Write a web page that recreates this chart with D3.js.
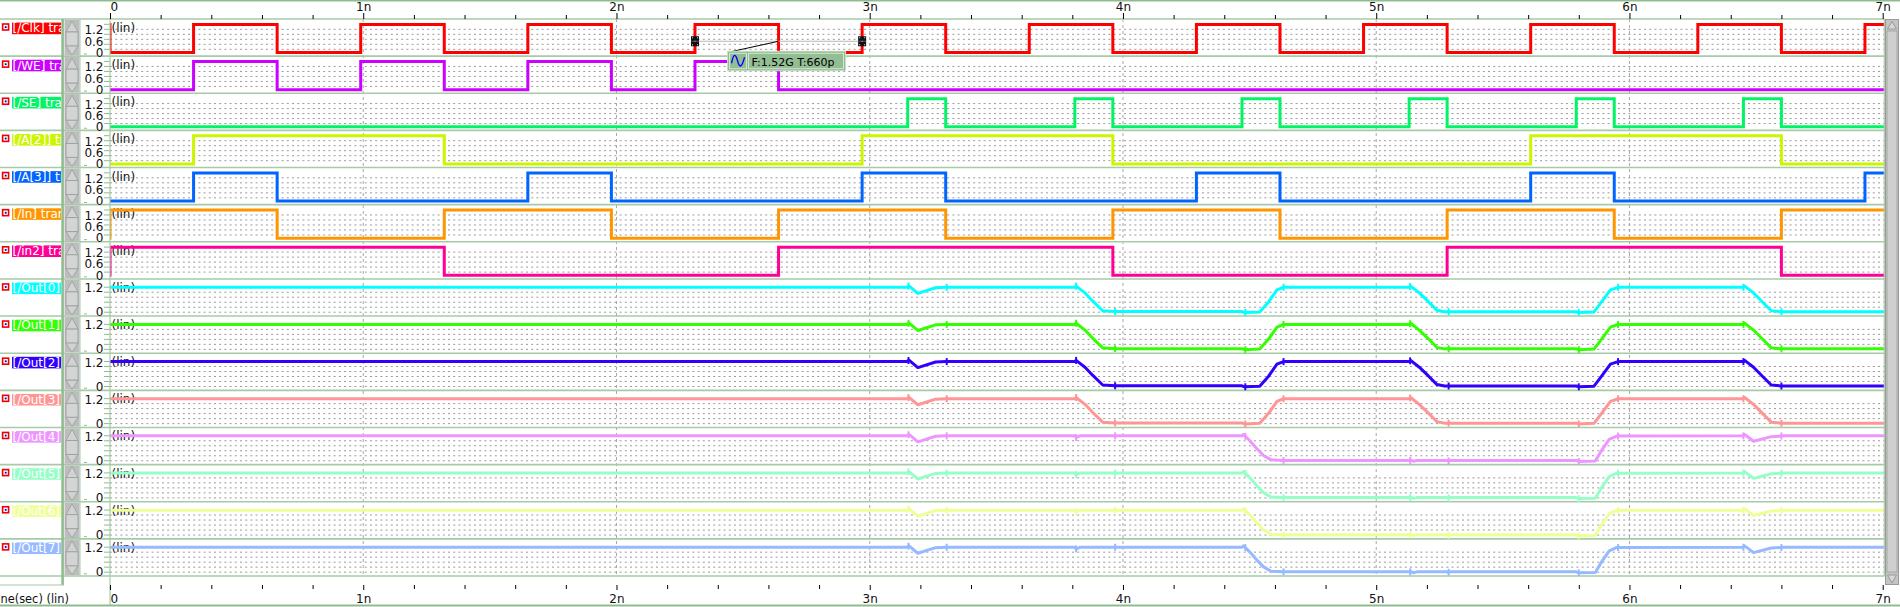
<!DOCTYPE html>
<html><head><meta charset="utf-8">
<script src="https://cdn.jsdelivr.net/npm/d3@7"></script>
<style>
body{margin:0;background:#fff;overflow:hidden;}
svg{display:block;font-family:"DejaVu Sans",sans-serif;}
</style></head><body>
<svg id="c" width="1900" height="607"></svg>
<script>
// ---------------- data ----------------
const timeTickValues = [0, 1, 2, 3, 4, 5, 6, 7];
const timeTickLabels = ["0", "1n", "2n", "3n", "4n", "5n", "6n", "7n"];
const signalNames = ["[/Clk] tran", "[/WE] tran", "[/SE] tran", "[/A[2]] tran", "[/A[3]] tran", "[/In] tran", "[/in2] tran",
  "[/Out[0]]", "[/Out[1]]", "[/Out[2]]", "[/Out[3]]", "[/Out[4]]", "[/Out[5]]", "[/Out[6]]", "[/Out[7]]"];
const signalColors = ["#ff0000", "#cc00ff", "#00f564", "#ccf500", "#0064ff", "#ff9600", "#ff0096",
  "#00ffff", "#32ff00", "#3200ff", "#ff9696", "#ee96ff", "#96ffc8", "#eeff96", "#96b9ff"];
const xAxisTitle = "ne(sec) (lin)";
const digitalTickValues = [0, 0.6, 1.2];
const analogTickValues = [0, 1.2];
const digitalHigh = 1.5;
const digitalStart = [1, 0, 0, 0, 0, 0, 0];
const clkEdges = [0, 0.33, 0.66, 0.99, 1.32, 1.65, 1.98, 2.31, 2.64, 2.97, 3.30, 3.63, 3.96, 4.29, 4.62, 4.95, 5.28, 5.61, 5.94, 6.27, 6.60, 6.93];
const weEdges = [0.33, 0.66, 0.99, 1.32, 1.65, 1.98, 2.31, 2.64];
const seEdges = [3.15, 3.30, 3.81, 3.96, 4.47, 4.62, 5.13, 5.28, 5.79, 5.94, 6.45, 6.60];
const a2Edges = [0.33, 1.32, 2.97, 3.96, 5.61, 6.60];
const a3Edges = [0.33, 0.66, 1.65, 1.98, 2.97, 3.30, 4.29, 4.62, 5.61, 5.94, 6.93];
const inEdges = [0, 0.66, 1.32, 1.98, 2.64, 3.30, 3.96, 4.62, 5.28, 5.94, 6.60];
const in2Edges = [0, 1.32, 2.64, 3.96, 5.28, 6.60];
const out0 = [[0,1.23],[3.145,1.23],[3.155,1.3],[3.19,0.93],[3.26,1.21],[3.30,1.23],[3.81,1.23],[3.815,1.29],[3.85,0.95],[3.88,0.55],[3.92,0.06],[3.97,0.02],[4.47,0.02],[4.48,-0.03],[4.54,0.0],[4.575,0.5],[4.608,1.1],[4.634,1.23],[5.13,1.23],[5.136,1.29],[5.17,0.95],[5.207,0.5],[5.24,0.08],[5.27,0.01],[5.79,0.01],[5.80,-0.03],[5.86,0.0],[5.89,0.5],[5.925,1.1],[5.955,1.23],[6.45,1.23],[6.455,1.29],[6.49,0.95],[6.525,0.5],[6.56,0.06],[6.6,0.01],[7.01,0.01]];
const out1 = [[0,1.23],[3.145,1.23],[3.155,1.3],[3.19,0.93],[3.26,1.21],[3.30,1.23],[3.81,1.23],[3.815,1.29],[3.85,0.95],[3.88,0.55],[3.92,0.06],[3.97,0.02],[4.47,0.02],[4.48,-0.03],[4.54,0.0],[4.575,0.5],[4.608,1.1],[4.634,1.23],[5.13,1.23],[5.136,1.29],[5.17,0.95],[5.207,0.5],[5.24,0.08],[5.27,0.01],[5.79,0.01],[5.80,-0.03],[5.86,0.0],[5.89,0.5],[5.925,1.1],[5.955,1.23],[6.45,1.23],[6.455,1.29],[6.49,0.95],[6.525,0.5],[6.56,0.06],[6.6,0.01],[7.01,0.01]];
const out2 = [[0,1.23],[3.145,1.23],[3.155,1.3],[3.19,0.93],[3.26,1.21],[3.30,1.23],[3.81,1.23],[3.815,1.29],[3.85,0.95],[3.88,0.55],[3.92,0.06],[3.97,0.02],[4.47,0.02],[4.48,-0.03],[4.54,0.0],[4.575,0.5],[4.608,1.1],[4.634,1.23],[5.13,1.23],[5.136,1.29],[5.17,0.95],[5.207,0.5],[5.24,0.08],[5.27,0.01],[5.79,0.01],[5.80,-0.03],[5.86,0.0],[5.89,0.5],[5.925,1.1],[5.955,1.23],[6.45,1.23],[6.455,1.29],[6.49,0.95],[6.525,0.5],[6.56,0.06],[6.6,0.01],[7.01,0.01]];
const out3 = [[0,1.23],[3.145,1.23],[3.155,1.3],[3.19,0.93],[3.26,1.21],[3.30,1.23],[3.81,1.23],[3.815,1.29],[3.85,0.95],[3.88,0.55],[3.92,0.06],[3.97,0.02],[4.47,0.02],[4.48,-0.03],[4.54,0.0],[4.575,0.5],[4.608,1.1],[4.634,1.23],[5.13,1.23],[5.136,1.29],[5.17,0.95],[5.207,0.5],[5.24,0.08],[5.27,0.01],[5.79,0.01],[5.80,-0.03],[5.86,0.0],[5.89,0.5],[5.925,1.1],[5.955,1.23],[6.45,1.23],[6.455,1.29],[6.49,0.95],[6.525,0.5],[6.56,0.06],[6.6,0.01],[7.01,0.01]];
const out4 = [[0,1.23],[3.145,1.23],[3.155,1.3],[3.19,0.93],[3.26,1.21],[3.30,1.23],[3.81,1.23],[3.815,1.15],[3.83,1.23],[4.47,1.23],[4.476,1.3],[4.50,1.0],[4.528,0.6],[4.555,0.25],[4.585,0.03],[4.63,0.0],[5.14,0.0],[5.146,-0.04],[5.16,0.0],[5.28,0.0],[5.285,-0.03],[5.29,0.0],[5.79,0.0],[5.80,-0.05],[5.865,-0.03],[5.89,0.5],[5.92,1.05],[5.95,1.22],[6.45,1.23],[6.455,1.3],[6.49,0.96],[6.56,1.19],[6.60,1.22],[6.61,1.23],[7.01,1.23]];
const out5 = [[0,1.23],[3.145,1.23],[3.155,1.3],[3.19,0.93],[3.26,1.21],[3.30,1.23],[3.81,1.23],[3.815,1.15],[3.83,1.23],[4.47,1.23],[4.476,1.3],[4.50,1.0],[4.528,0.6],[4.555,0.25],[4.585,0.03],[4.63,0.0],[5.14,0.0],[5.146,-0.04],[5.16,0.0],[5.28,0.0],[5.285,-0.03],[5.29,0.0],[5.79,0.0],[5.80,-0.05],[5.865,-0.03],[5.89,0.5],[5.92,1.05],[5.95,1.22],[6.45,1.23],[6.455,1.3],[6.49,0.96],[6.56,1.19],[6.60,1.22],[6.61,1.23],[7.01,1.23]];
const out6 = [[0,1.23],[3.145,1.23],[3.155,1.3],[3.19,0.93],[3.26,1.21],[3.30,1.23],[3.81,1.23],[3.815,1.15],[3.83,1.23],[4.47,1.23],[4.476,1.3],[4.50,1.0],[4.528,0.6],[4.555,0.25],[4.585,0.03],[4.63,0.0],[5.14,0.0],[5.146,-0.04],[5.16,0.0],[5.28,0.0],[5.285,-0.03],[5.29,0.0],[5.79,0.0],[5.80,-0.05],[5.865,-0.03],[5.89,0.5],[5.92,1.05],[5.95,1.22],[6.45,1.23],[6.455,1.3],[6.49,0.96],[6.56,1.19],[6.60,1.22],[6.61,1.23],[7.01,1.23]];
const out7 = [[0,1.23],[3.145,1.23],[3.155,1.3],[3.19,0.93],[3.26,1.21],[3.30,1.23],[3.81,1.23],[3.815,1.15],[3.83,1.23],[4.47,1.23],[4.476,1.3],[4.50,1.0],[4.528,0.6],[4.555,0.25],[4.585,0.03],[4.63,0.0],[5.14,0.0],[5.146,-0.04],[5.16,0.0],[5.28,0.0],[5.285,-0.03],[5.29,0.0],[5.79,0.0],[5.80,-0.05],[5.865,-0.03],[5.89,0.5],[5.92,1.05],[5.95,1.22],[6.45,1.23],[6.455,1.3],[6.49,0.96],[6.56,1.19],[6.60,1.22],[6.61,1.23],[7.01,1.23]];
const outMarkerTimes = [3.153, 3.304, 3.815, 3.969, 4.483, 4.634, 5.134, 5.286, 5.80, 5.955, 6.45, 6.60];
const cursorTimes = [2.31, 2.97];
const cursorLevel = 0.6;
const cursorText = "F:1.52G T:660p";

// ---------------- drawing ----------------
const svg = d3.select("#c");
const W = 1900, H = 607;
const x = d3.scaleLinear().domain([0, 7]).range([110, 1882.7]);
const row = d3.scaleBand().domain(d3.range(15)).range([19, 576]).paddingInner(0).paddingOuter(0);
const GREEN = "#8fbc8f", LGREEN = "#a6cba6";

const digitalEdges = [clkEdges, weEdges, seEdges, a2Edges, a3Edges, inEdges, in2Edges];
const analogSeries = [out0, out1, out2, out3, out4, out5, out6, out7];

function yScale(i) {
  const top = row(i);
  return i < 7 ? d3.scaleLinear().domain([0, 1.2]).range([top + 33.5, top + 11])
               : d3.scaleLinear().domain([0, 1.2]).range([top + 33, top + 9]);
}

svg.append("rect").attr("width", W).attr("height", H).attr("fill", "#fff");

const defs = svg.append("defs");
defs.append("clipPath").attr("id", "plotclip").append("rect").attr("x", 110).attr("y", 19).attr("width", 1774.5).attr("height", 557);
defs.append("clipPath").attr("id", "labclip").append("rect").attr("x", 0).attr("y", 0).attr("width", 61).attr("height", H);

// grid
const grid = svg.append("g");
d3.range(15).forEach(i => {
  const top = row(i);
  const offs = i < 7 ? [10.3, 15.3, 20.3, 25.3, 30.3] : [13.3, 18.3, 23.3, 28.3, 33.3];
  offs.forEach(o => {
    grid.append("line").attr("x1", 110).attr("x2", 1884).attr("y1", top + o).attr("y2", top + o)
      .attr("stroke", "#9a9a9a").attr("stroke-width", 1).attr("stroke-dasharray", "2,3.2");
  });
  const ticks = i < 7 ? [5.3, 10.3, 15.3, 20.3, 25.3, 30.3] : [8.3, 13.3, 18.3, 23.3, 28.3, 33.3];
  ticks.forEach(o => {
    grid.append("line").attr("x1", 104).attr("x2", 110).attr("y1", top + o).attr("y2", top + o)
      .attr("stroke", GREEN).attr("stroke-width", 1);
  });
  grid.append("line").attr("x1", 84).attr("x2", 87).attr("y1", top + 35).attr("y2", top + 35).attr("stroke", GREEN).attr("stroke-width", 1);
});
timeTickValues.slice(1, 7).forEach(t => {
  grid.append("line").attr("x1", x(t)).attr("x2", x(t)).attr("y1", 19).attr("y2", 576)
    .attr("stroke", "#a8a8a8").attr("stroke-width", 1).attr("stroke-dasharray", "3,3");
});

// panel separators
d3.range(16).forEach(i => {
  const y = 19 + i * row.step();
  svg.append("line").attr("x1", 0).attr("x2", 1884.5).attr("y1", y).attr("y2", y).attr("stroke", LGREEN).attr("stroke-width", 1.6);
});

// "(lin)" texts and y tick labels
d3.range(15).forEach(i => {
  const top = row(i);
  const ys = yScale(i);
  svg.append("text").attr("x", 111.5).attr("y", top + 13).attr("font-size", 12).attr("fill", "#111").text("(lin)");
  const tv = i < 7 ? digitalTickValues : analogTickValues;
  tv.forEach(v => {
    svg.append("text").attr("x", 103.5).attr("y", ys(v)).attr("dy", "0.36em").attr("text-anchor", "end")
      .attr("font-size", 12).attr("fill", "#111").text(d3.format("")(v));
  });
});

// traces
const plot = svg.append("g").attr("clip-path", "url(#plotclip)");
digitalEdges.forEach((edges, i) => {
  const ys = yScale(i);
  let lv = digitalStart[i];
  const pts = [[0, lv ? digitalHigh : 0]];
  edges.forEach(e => { lv = 1 - lv; pts.push([e, lv ? digitalHigh : 0]); });
  pts.push([7.01, lv ? digitalHigh : 0]);
  const line = d3.line().x(d => x(d[0])).y(d => ys(d[1])).curve(d3.curveStepAfter);
  plot.append("path").attr("d", line(pts)).attr("fill", "none").attr("stroke", signalColors[i])
    .attr("stroke-width", 3).attr("stroke-linejoin", "miter").attr("stroke-linecap", "square");
});
analogSeries.forEach((pts, j) => {
  const i = j + 7;
  const ys = yScale(i);
  const line = d3.line().x(d => x(d[0])).y(d => ys(d[1]));
  plot.append("path").attr("d", line(pts)).attr("fill", "none").attr("stroke", signalColors[i])
    .attr("stroke-width", 3).attr("stroke-linejoin", "round");
  const bis = d3.bisector(d => d[0]).left;
  outMarkerTimes.forEach(t => {
    const k = Math.max(1, bis(pts, t));
    const a = pts[k - 1], b = pts[k];
    const v = a[1] + (b[1] - a[1]) * ((t - a[0]) / ((b[0] - a[0]) || 1));
    plot.append("line").attr("x1", x(t)).attr("x2", x(t)).attr("y1", ys(v) - 3.5).attr("y2", ys(v) + 3.5)
      .attr("stroke", signalColors[i]).attr("stroke-width", 2);
  });
});

// left frame pieces
svg.append("line").attr("x1", 110).attr("x2", 110).attr("y1", 19).attr("y2", 605).attr("stroke", LGREEN).attr("stroke-width", 1.2);
svg.append("line").attr("x1", 1884.3).attr("x2", 1884.3).attr("y1", 19).attr("y2", 576).attr("stroke", LGREEN).attr("stroke-width", 1.2);
svg.append("rect").attr("x", 61.3).attr("y", 19).attr("width", 2.6).attr("height", 566).attr("fill", GREEN);
svg.append("line").attr("x1", 0).attr("x2", 64).attr("y1", 585).attr("y2", 585).attr("stroke", LGREEN).attr("stroke-width", 1.2);

// per-row label widgets
d3.range(15).forEach(i => {
  const top = row(i);
  svg.append("rect").attr("x", 2.6).attr("y", top + 5).attr("width", 6).attr("height", 6)
    .attr("fill", "#fff").attr("stroke", "#ee0000").attr("stroke-width", 1.6);
  svg.append("rect").attr("x", 4.8).attr("y", top + 7.2).attr("width", 1.8).attr("height", 1.8).attr("fill", "#0000cc");
  const lg = svg.append("g").attr("clip-path", "url(#labclip)");
  lg.append("rect").attr("x", 12).attr("y", top + 3.6).attr("width", 50).attr("height", 11.6).attr("fill", signalColors[i]);
  lg.append("text").attr("x", 12.5).attr("y", top + 13.4).attr("font-size", 12).attr("fill", "#fff").text(signalNames[i]);
  const sx = 64.5, sw = 15;
  svg.append("rect").attr("x", sx).attr("y", top + 0.8).attr("width", sw).attr("height", row.step() - 1.6).attr("fill", "#bdbdbd");
  svg.append("polygon").attr("points", `${sx+1.5},${top+13} ${sx+sw/2},${top+2} ${sx+sw-1.5},${top+13}`)
    .attr("fill", "#d2d2d2").attr("stroke", "#9c9c9c").attr("stroke-width", 0.8);
  svg.append("rect").attr("x", sx + 1.5).attr("y", top + 13).attr("width", sw - 3).attr("height", 14)
    .attr("fill", "#d4d4d4").attr("stroke", "#9c9c9c").attr("stroke-width", 0.8);
  svg.append("polygon").attr("points", `${sx+1.5},${top+27} ${sx+sw-1.5},${top+27} ${sx+sw/2},${top+36}`)
    .attr("fill", "#d2d2d2").attr("stroke", "#9c9c9c").attr("stroke-width", 0.8);
});
svg.append("line").attr("x1", 80).attr("x2", 80).attr("y1", 19).attr("y2", 576).attr("stroke", LGREEN).attr("stroke-width", 1);

// right scrollbar
svg.append("rect").attr("x", 1885.5).attr("y", 19.5).attr("width", 13).attr("height", 565).attr("fill", "#c4c4c4").attr("stroke", "#9a9a9a");
svg.append("rect").attr("x", 1887).attr("y", 31).attr("width", 10).attr("height", 541).attr("fill", "#cfcfcf").attr("stroke", "#a8a8a8");
svg.append("polygon").attr("points", "1887.5,29 1892,21.5 1896.5,29").attr("fill", "#d8d8d8").attr("stroke", "#999");
svg.append("polygon").attr("points", "1887.5,575 1896.5,575 1892,583").attr("fill", "#d8d8d8").attr("stroke", "#999");

// top and bottom frame lines
svg.append("line").attr("x1", 0).attr("x2", W).attr("y1", 0.8).attr("y2", 0.8).attr("stroke", GREEN).attr("stroke-width", 1.6);
svg.append("line").attr("x1", 0).attr("x2", W).attr("y1", 605.5).attr("y2", 605.5).attr("stroke", GREEN).attr("stroke-width", 2);

// axes
const minorTicks = d3.range(0, 35.5).map(k => k * 0.2).filter(v => Math.abs(v - Math.round(v)) > 1e-6);
function styleAxis(g) {
  g.select(".domain").remove();
  g.selectAll("line").attr("stroke", "#000");
  g.selectAll("text").attr("font-size", 12).attr("fill", "#111").attr("font-family", "DejaVu Sans");
  g.selectAll("text").filter(d => d === 0).attr("text-anchor", "start").attr("dx", 0);
}
const fmt = d => timeTickLabels[timeTickValues.indexOf(d)];
svg.append("g").attr("transform", "translate(0,19)").call(d3.axisTop(x).tickValues(minorTicks).tickSize(4).tickFormat("")).call(styleAxis);
svg.append("g").attr("transform", "translate(0,19)").call(d3.axisTop(x).tickValues(timeTickValues).tickSize(6).tickPadding(2).tickFormat(fmt)).call(styleAxis);
svg.append("g").attr("transform", "translate(0,585)").call(d3.axisBottom(x).tickValues(minorTicks).tickSize(4).tickFormat("")).call(styleAxis);
svg.append("g").attr("transform", "translate(0,585)").call(d3.axisBottom(x).tickValues(timeTickValues).tickSize(5).tickPadding(4).tickFormat(fmt)).call(styleAxis);
svg.append("text").attr("x", 0.5).attr("y", 602.5).attr("text-anchor", "start").attr("font-size", 11.4).attr("fill", "#111").text(xAxisTitle);

// cursor measurement
const ys0 = yScale(0);
const c1 = x(cursorTimes[0]), c2 = x(cursorTimes[1]), cy = ys0(cursorLevel);
svg.append("line").attr("x1", c1).attr("x2", c2).attr("y1", cy).attr("y2", cy).attr("stroke", "#b8b8b8").attr("stroke-width", 1);
const tipX = (c1 + c2) / 2 - 51, tipY = cy + 10;
svg.append("line").attr("x1", tipX + 1).attr("y1", tipY + 1).attr("x2", (c1 + c2) / 2).attr("y2", cy).attr("stroke", "#000").attr("stroke-width", 1);
[c1, c2].forEach(cx => {
  const m = svg.append("g").attr("transform", `translate(${cx},${cy})`);
  m.append("rect").attr("x", -4).attr("y", -5).attr("width", 8).attr("height", 10).attr("fill", "#111");
  [[-3,-4],[2,-4],[-3,3],[2,3],[-0.5,-0.5]].forEach(p => m.append("rect").attr("x", p[0]).attr("y", p[1]).attr("width", 1).attr("height", 1).attr("fill", "#ddd"));
  m.append("line").attr("x1", -4).attr("x2", 4).attr("y1", 0).attr("y2", 0).attr("stroke", "#777").attr("stroke-width", 0.7);
});
const tip = svg.append("g").attr("transform", `translate(${tipX},${tipY})`);
tip.append("rect").attr("x", 0).attr("y", 0).attr("width", 118).attr("height", 19.5).attr("fill", "#8db88d").attr("stroke", "#c9e0c9").attr("stroke-width", 1);
tip.append("rect").attr("x", 2).attr("y", 2).attr("width", 17).attr("height", 15.5).attr("fill", "#93bd93").attr("stroke", "#d6ead6").attr("stroke-width", 1);
tip.append("path").attr("d", "M4,12 C6,2 8,2 10,9.5 C12,17 14,17 17,6").attr("fill", "none").attr("stroke", "#0000ff").attr("stroke-width", 1.3);
tip.append("rect").attr("x", 21).attr("y", 2).attr("width", 95).attr("height", 15.5).attr("fill", "#93bd93").attr("stroke", "#d6ead6").attr("stroke-width", 1);
tip.append("text").attr("x", 24).attr("y", 14.3).attr("font-size", 11).attr("fill", "#000").text(cursorText);
</script>
</body></html>
